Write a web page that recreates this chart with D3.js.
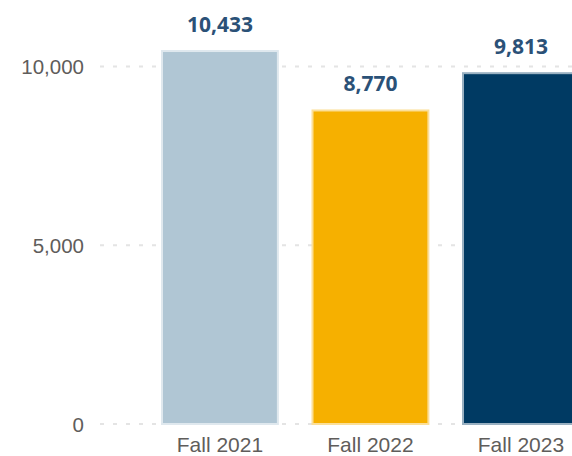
<!DOCTYPE html>
<html>
<head>
<meta charset="utf-8">
<script src="https://cdnjs.cloudflare.com/ajax/libs/d3/7.8.5/d3.min.js"></script>
<style>
  html, body { margin: 0; padding: 0; background: #fff; }
  svg { display: block; font-family: "Open Sans", "Segoe UI", sans-serif; }
</style>
</head>
<body>
<svg id="chart" width="572" height="456"></svg>
<script>
// Enrollment by fall term
const terms = ["Fall 2021", "Fall 2022", "Fall 2023"];
const counts = [10433, 8770, 9813];
const barColors = ["#b0c6d4", "#f6b000", "#003a63"];
const yTicks = [0, 5000, 10000];

const svg = d3.select("#chart");
const fmt = d3.format(",");

const x = d3.scaleBand()
    .domain(terms)
    .range([144.7, 596.2])
    .paddingInner(0.23)
    .paddingOuter(0.115);

const y = d3.scaleLinear()
    .domain([0, 10000])
    .range([424, 66.5]);

// dotted gridlines
svg.append("g")
    .selectAll("line")
    .data(yTicks)
    .join("line")
    .attr("x1", 100)
    .attr("x2", 572)
    .attr("y1", d => y(d))
    .attr("y2", d => y(d))
    .attr("stroke", "#e4e4e4")
    .attr("stroke-width", 2)
    .attr("stroke-dasharray", "4,9");

// y tick labels
const yAxis = d3.axisLeft(y).tickValues(yTicks).tickFormat(fmt).tickSize(0).tickPadding(0);
const yg = svg.append("g")
    .attr("transform", "translate(84,0)")
    .call(yAxis);
yg.select(".domain").remove();
yg.selectAll("text")
    .attr("font-size", 20.5)
    .attr("font-family", null)
    .attr("fill", "#5f5d5b")
    .attr("dy", "0.35em");

// bars
svg.append("g")
    .selectAll("rect")
    .data(terms)
    .join("rect")
    .attr("x", d => x(d))
    .attr("width", x.bandwidth())
    .attr("y", (d, i) => y(counts[i]))
    .attr("height", (d, i) => y(0) - y(counts[i]))
    .attr("fill", (d, i) => barColors[i])
    .attr("stroke", (d, i) => d3.interpolateRgb(barColors[i], "#ffffff")(0.6))
    .attr("stroke-width", 2);

// data labels
svg.append("g")
    .selectAll("text")
    .data(terms)
    .join("text")
    .attr("x", d => x(d) + x.bandwidth() / 2)
    .attr("y", (d, i) => y(counts[i]) - 19)
    .attr("text-anchor", "middle")
    .attr("font-size", 21)
    .attr("font-weight", "bold")
    .attr("fill", "#2b5177")
    .text((d, i) => fmt(counts[i]));

// x tick labels
const xAxis = d3.axisBottom(x).tickSize(0).tickPadding(0);
const xg = svg.append("g")
    .attr("transform", "translate(0,437)")
    .call(xAxis);
xg.select(".domain").remove();
xg.selectAll("text")
    .attr("font-size", 21)
    .attr("font-family", null)
    .attr("fill", "#5f5d5b")
    .attr("dy", "0.71em");
</script>
</body>
</html>
